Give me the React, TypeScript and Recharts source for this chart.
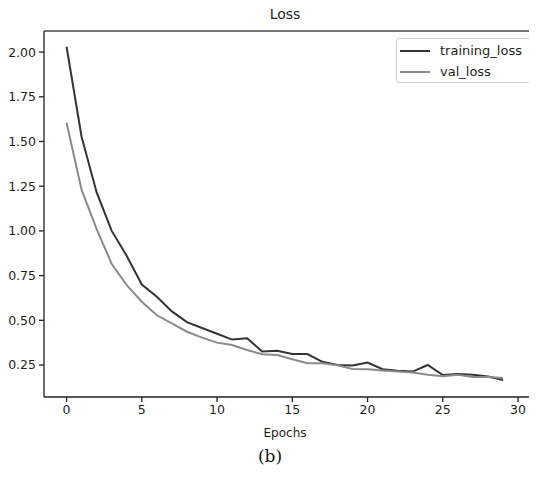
import { LineChart, Line, XAxis, YAxis, ReferenceLine } from 'recharts'

const epochs = [
  0, 1, 2, 3, 4, 5, 6, 7, 8, 9, 10, 11, 12, 13, 14, 15, 16, 17, 18, 19, 20, 21, 22, 23, 24, 25, 26, 27, 28, 29,
]
const trainingLoss = [
  2.03, 1.525, 1.215, 1.0, 0.86, 0.7, 0.632, 0.55, 0.49, 0.457, 0.425, 0.392, 0.4, 0.325, 0.33, 0.311, 0.311,
  0.268, 0.25, 0.247, 0.264, 0.226, 0.218, 0.213, 0.25, 0.194, 0.2, 0.196, 0.186, 0.166,
]
const valLoss = [
  1.605, 1.229, 1.01, 0.815, 0.697, 0.604, 0.528, 0.483, 0.436, 0.403, 0.375, 0.362, 0.334, 0.31, 0.306, 0.282,
  0.26, 0.26, 0.248, 0.228, 0.226, 0.219, 0.214, 0.208, 0.196, 0.187, 0.196, 0.183, 0.183, 0.177,
]
const xTicks = [0, 5, 10, 15, 20, 25, 30]
const yTicks = [0.25, 0.5, 0.75, 1.0, 1.25, 1.5, 1.75, 2.0]

const data = epochs.map((e, i) => ({ epoch: e, training_loss: trainingLoss[i], val_loss: valLoss[i] }))

const font = '"DejaVu Sans", sans-serif'
const tickStyle = { fontSize: 12.5, fill: '#1e1e1e', fontFamily: font }
const Y_MAX = 2.118
const Y_MIN = 0.071

const legendItems = [
  { name: 'training_loss', color: '#333333' },
  { name: 'val_loss', color: '#8a8a8a' },
]

function LossLegend() {
  return (
    <div
      style={{
        position: 'absolute',
        top: 38,
        left: 396,
        width: 137,
        height: 45,
        boxSizing: 'border-box',
        border: '1px solid #cfcfcf',
        borderRadius: 3,
        background: '#fff',
        padding: '1px 0 0 3px',
        fontFamily: font,
        fontSize: 13,
        color: '#1e1e1e',
      }}
    >
      {legendItems.map((it) => (
        <div key={it.name} style={{ display: 'flex', alignItems: 'center', height: 21 }}>
          <span style={{ display: 'inline-block', width: 30, height: 2, background: it.color, marginRight: 10 }} />
          {it.name}
        </div>
      ))}
    </div>
  )
}

export default function App() {
  return (
    <div style={{ position: 'relative', width: 537, height: 477, margin: -8, background: '#fff', overflow: 'hidden' }}>
      <div
        style={{
          position: 'absolute',
          left: 0,
          width: 570,
          top: 6,
          textAlign: 'center',
          fontFamily: font,
          fontSize: 14,
          color: '#1e1e1e',
        }}
      >
        Loss
      </div>
      <LineChart width={537} height={477} data={data} margin={{ top: 31, right: 0, bottom: 0, left: 0 }}>
        <XAxis
          dataKey="epoch"
          type="number"
          domain={[-1.5, 31.26]}
          ticks={xTicks}
          allowDataOverflow
          height={80}
          tick={tickStyle}
          tickSize={5}
          tickMargin={3}
          stroke="#222"
          strokeWidth={1.3}
        />
        <YAxis
          type="number"
          domain={[Y_MIN, Y_MAX]}
          ticks={yTicks}
          allowDataOverflow
          width={44}
          tick={tickStyle}
          tickSize={5}
          tickMargin={3}
          tickFormatter={(v: number) => v.toFixed(2)}
          stroke="#222"
          strokeWidth={1.3}
        />
        <ReferenceLine y={Y_MAX} stroke="#444" strokeWidth={1.3} />
        <Line
          dataKey="training_loss"
          stroke="#333333"
          strokeWidth={2}
          dot={false}
          isAnimationActive={false}
          type="linear"
        />
        <Line dataKey="val_loss" stroke="#8a8a8a" strokeWidth={2} dot={false} isAnimationActive={false} type="linear" />
      </LineChart>
      <LossLegend />
      <div
        style={{
          position: 'absolute',
          left: 0,
          width: 570,
          top: 426,
          textAlign: 'center',
          fontFamily: font,
          fontSize: 12,
          color: '#1e1e1e',
        }}
      >
        Epochs
      </div>
      <div
        style={{
          position: 'absolute',
          left: 0,
          width: 540,
          top: 446,
          textAlign: 'center',
          fontFamily: '"DejaVu Serif", serif',
          fontSize: 17,
          color: '#111',
        }}
      >
        (b)
      </div>
    </div>
  )
}
